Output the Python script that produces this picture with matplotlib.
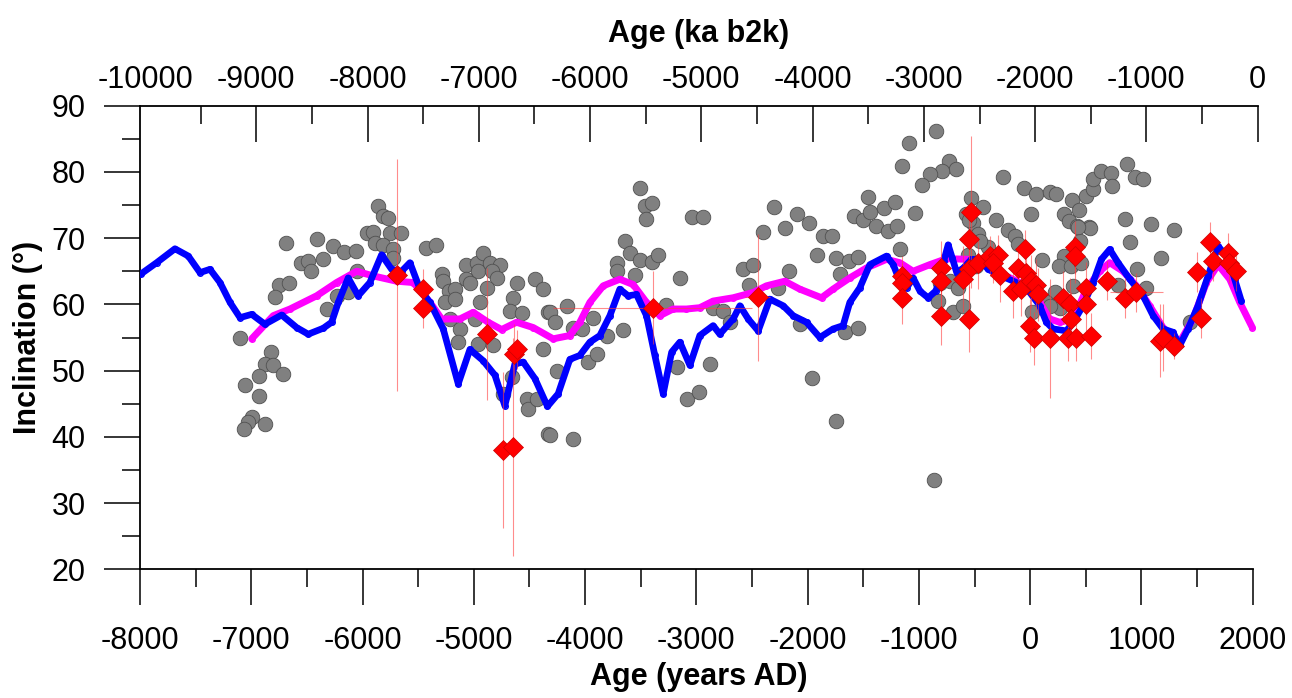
import matplotlib.pyplot as plt
from matplotlib.ticker import MultipleLocator

plt.rcParams['font.family'] = ['Liberation Sans', 'DejaVu Sans']
plt.rcParams['axes.unicode_minus'] = False

# grey points (years AD, inclination)
grey_x = [-7101, -6826, -6877, -6808, -6712, -6934, -7057, -6934, -6991, -7027, -7063, -6874,
          -6688, -6407, -6263, -6167, -6062, -6556, -6488, -6464, -6359, -6751, -6661, -6784,
          -6322, -6233, -6129, -6053, -5859, -5814, -5769, -5958, -5904, -5754, -5658, -5889,
          -5814, -5724, -5724, -5433, -5343, -5289, -5275, -5221, -5170, -5260, -5170, -5071,
          -4975, -4916, -4960, -4855, -4766, -4840, -4795, -5071, -5035, -4885, -4946, -4990,
          -5215, -5125, -5140, -4960, -4826, -4660, -4741, -4526, -4511, -4436, -4616, -4646,
          -4676, -4571, -4451, -4376, -4376, -4331, -4331,
          -4316, -4271, -4166, -4107, -4032, -4256, -4316, -4112, -3972, -3897, -3927, -3807,
          -3658, -3643, -3598, -3508, -3403, -3343, -3717, -3717, -3553, -3502, -3457, -3403,
          -3448, -3148, -3040, -2939, -3274, -3178, -3083, -2975, -2879, -2849, -2759, -2699,
          -2579, -2489, -2525, -2399, -2304, -2205, -2265, -2166, -2094, -1986, -1866, -1785,
          -1915, -1747, -1627, -1546, -1705, -2070, -1666, -1546, -1959, -1747, -1456, -1582,
          -1501, -1441, -1381, -1315, -1216, -1276, -1201,
          -842, -1091, -1148, -729, -665, -788, -902, -971, -1037, -1172, -243, -54, 57, 176,
          236, -536, -423, -573, -513, -303, -198, -138, -108, 6, -468, -558, -378, -483, 106,
          307, 262, 367, 376, 442, 307, 352, 421, 525, 502, 568, 568, 637, 726, 735, 867, 943,
          1011, 849, 1087, 1292, 895, 446, 1179, 964, 1038, 790, 460, 386, 221, 146, 266, 176,
          18, 1434, -866, -812, -722, -647, -827, -692, -602, -552, -453, 536, 431]
grey_y = [55.0, 52.8, 51.0, 50.9, 49.5, 49.2, 47.8, 46.2, 43.0, 42.2, 41.2, 42.0,
          69.2, 69.8, 68.8, 67.9, 68.0, 66.2, 66.5, 65.1, 66.8, 63.0, 63.3, 61.1,
          59.3, 61.2, 61.8, 65.0, 74.8, 73.3, 73.1, 70.8, 70.9, 70.8, 70.8, 69.2,
          68.9, 68.3, 67.0, 68.5, 68.9, 64.6, 63.5, 62.0, 62.3, 60.4, 60.8, 65.9,
          66.3, 67.8, 65.0, 66.3, 66.0, 65.0, 64.0, 63.8, 63.3, 62.4, 60.3, 57.8,
          57.8, 56.3, 54.3, 54.0, 53.8, 49.0, 46.5, 45.7, 44.2, 45.7, 63.3, 61.0,
          59.0, 58.7, 63.9, 62.3, 53.3, 58.8, 40.5,
          58.9, 57.4, 59.7, 56.5, 56.3, 49.9, 40.3, 39.7, 51.3, 52.5, 58.0, 55.3,
          56.2, 69.5, 67.7, 66.7, 66.4, 67.5, 66.3, 65.0, 64.5, 77.5, 74.8, 75.3,
          72.9, 64.0, 73.2, 73.2, 59.9, 50.5, 45.7, 46.8, 51.0, 59.5, 59.0, 57.3,
          65.3, 65.9, 62.9, 71.0, 74.7, 71.5, 62.4, 65.0, 73.7, 72.3, 70.3, 70.3,
          67.5, 67.0, 66.5, 67.1, 64.6, 57.0, 55.8, 56.5, 48.9, 42.4, 76.2, 73.4,
          72.7, 73.9, 71.9, 74.6, 75.4, 71.1, 71.8,
          86.2, 84.4, 80.9, 81.6, 80.4, 80.2, 79.7, 78.1, 73.8, 68.3, 79.3, 77.5, 76.7, 76.9,
          76.7, 76.1, 74.7, 73.6, 72.3, 72.7, 71.3, 70.3, 69.1, 73.7, 70.6, 67.5, 68.6, 65.8, 66.7,
          67.3, 65.8, 65.8, 75.8, 74.2, 73.6, 72.6, 71.9, 71.7, 76.3, 77.4, 78.9, 80.2, 79.8, 77.8, 81.2, 79.2,
          79.0, 72.9, 72.1, 71.3, 69.4, 69.6, 67.0, 65.3, 62.5, 63.0, 66.3, 62.8, 61.8, 60.3, 59.5, 59.8,
          58.9, 57.3, 33.5, 63.3, 63.5, 62.5, 60.5, 58.8, 59.8, 72.8, 69.5, 71.6, 71.7]

# red diamonds with uncertainties
red_x = [-5694, -5460, -5460, -4885, -4640, -4610, -4736, -4651, -3394, -2450,
         -1150, -1150, -1150, -797, -797, -797, -549, -528, -549, -608, -549,
         -468, -363, -288, -333, -273, -48, -108, -33, -153, -78, 12, 57, 72,
         -3, 33, 176, 296, 356, 371, 341, 410, 401, 401, 500, 500, 551,
         694, 850, 955, 1164, 1194, 1292, 1500, 1539, 1614, 1644, 1778, 1787, 1853]
red_y = [64.4, 62.3, 59.5, 55.5, 52.5, 53.2, 38.0, 38.5, 59.5, 61.1,
         64.3, 63.3, 61.0, 65.5, 63.6, 58.3, 69.9, 74.0, 65.4, 63.8, 57.8,
         66.3, 67.3, 67.5, 66.3, 64.4, 68.3, 65.5, 64.8, 62.0, 62.3, 63.5, 62.9, 61.5,
         56.8, 54.9, 54.9, 61.0, 60.0, 57.8, 54.9, 55.0, 68.6, 67.3, 62.4, 60.0, 55.2,
         63.6, 61.0, 61.8, 54.5, 55.0, 53.7, 64.9, 58.0, 69.4, 66.5, 67.8, 66.3, 65.0]
red_yerr = [17.5, 3.0, 3.0, 10.0, 4.5, 3.0, 11.8, 16.5, 5.5, 9.6,
            3.0, 3.0, 4.0, 4.0, 4.0, 4.5, 4.0, 11.5, 5.0, 5.0, 5.0,
            4.0, 3.0, 3.0, 3.0, 4.0, 3.0, 3.0, 3.0, 4.0, 4.0, 4.0, 4.0, 4.0,
            4.0, 4.0, 9.0, 4.0, 4.0, 4.0, 3.5, 3.5, 4.0, 4.0, 4.0, 4.0, 3.5,
            3.0, 3.0, 3.0, 5.5, 5.0, 2.0, 3.0, 3.0, 3.0, 3.0, 3.0, 3.0, 3.0]
red_xerr = [0, 0, 0, 0, 0, 0, 0, 0, 890, 110,
            0, 50, 50, 0, 0, 0, 0, 0, 0, 0, 0,
            0, 60, 0, 0, 0, 45, 0, 0, 0, 0, 0, 0, 0,
            0, 0, 0, 0, 0, 0, 0, 0, 0, 0, 0, 0, 0,
            0, 0, 240, 0, 0, 0, 0, 0, 0, 0, 0, 0, 0]

# blue model curve
blue_x = [-7991, -7850, -7686, -7566, -7461, -7371, -7281, -7191, -7101, -6996, -6877, -6727,
          -6592, -6488, -6353, -6278, -6218, -6129, -6039, -5934, -5829, -5739, -5649, -5574,
          -5484, -5394, -5275, -5140, -5035, -4916, -4810, -4721, -4631, -4556, -4451, -4338,
          -4242, -4137, -4047, -3957, -3867, -3777, -3688, -3613, -3538, -3448, -3373, -3298,
          -3222, -3148, -3058, -2969, -2849, -2789, -2669, -2609, -2534, -2444, -2340, -2220,
          -2130, -2010, -1890, -1771, -1681, -1621, -1531, -1441, -1291, -1230, -1172, -1110,
          -1052, -990, -917, -850, -812, -777, -737, -700, -660, -600, -528, -453, -378, -273,
          -123, -3, 86, 146, 206, 326, 386, 476, 565, 640, 715, 790, 895, 1015, 1105, 1194,
          1284, 1344, 1419, 1509, 1599, 1689, 1778, 1838, 1898]
blue_y = [64.6, 66.3, 68.4, 67.3, 64.8, 65.3, 63.3, 60.3, 58.0, 58.5, 57.0, 58.4,
          56.5, 55.5, 56.4, 57.3, 60.3, 64.0, 61.3, 63.3, 67.5, 65.3, 65.0, 66.3,
          62.3, 60.3, 56.3, 48.0, 53.2, 51.5, 49.3, 44.7, 51.0, 51.3, 48.8, 44.6,
          46.5, 51.7, 52.3, 54.3, 55.3, 58.3, 62.3, 61.3, 61.5, 58.3, 52.3, 46.5,
          52.8, 54.3, 50.8, 55.3, 56.8, 55.5, 57.8, 59.8, 57.8, 56.0, 60.8, 59.8,
          58.3, 57.3, 55.0, 56.3, 56.8, 60.3, 62.5, 66.0, 67.3, 66.0, 63.5, 62.5,
          64.0, 62.0, 61.0, 62.0, 63.5, 66.5, 69.0, 67.0, 64.8, 65.5, 66.8, 66.8, 65.3, 64.4,
          63.3, 61.8, 59.8, 57.3, 56.3, 56.0, 57.3, 59.8, 63.3, 66.8, 68.3, 66.3, 63.8, 61.3, 58.3, 56.3,
          55.8, 53.8, 56.3, 59.8, 64.3, 68.8, 67.0, 63.8, 60.5]

# magenta model curve
mag_x = [-6996, -6802, -6652, -6412, -6233, -6053, -5904, -5694, -5544, -5394, -5289, -5125,
         -5005, -4871, -4750, -4616, -4466, -4287, -4137, -4047, -3957, -3837, -3688, -3568,
         -3448, -3328, -3209, -3089, -2969, -2849, -2669, -2489, -2370, -2205, -2070, -1875,
         -1771, -1621, -1471, -1291, -1172, -1052, -902, -752, -543, -423, -243, -33, 86, 176,
         266, 386, 506, 625, 715, 835, 955, 1074, 1194, 1344, 1464, 1584, 1689, 1794, 1884, 1997]
mag_y = [54.8, 58.3, 59.3, 61.3, 63.3, 65.0, 64.3, 63.5, 63.3, 60.3, 57.8, 57.8,
         58.8, 57.3, 56.2, 57.3, 56.5, 54.8, 55.3, 57.3, 60.3, 62.8, 63.8, 63.0,
         60.3, 58.3, 59.3, 59.3, 59.5, 60.5, 61.0, 61.8, 62.8, 63.5, 62.3, 61.0,
         62.3, 64.0, 65.5, 66.8, 66.3, 65.0, 66.0, 66.9, 66.8, 66.3, 64.5, 62.8, 60.3, 57.8,
         57.3, 57.8, 62.3, 65.0, 66.3, 65.0, 62.8, 59.8, 56.5, 54.3, 57.8, 63.3, 66.0, 63.8, 60.3, 56.5]

# offset between the two age scales
offset = 2045

fig = plt.figure(figsize=(12.92, 6.98), dpi=100)
ax = fig.add_axes([140 / 1292, 128.7 / 698, 1117.7 / 1292, 463.6 / 698])

ax.scatter(grey_x, grey_y, s=110, color='#808080', edgecolors='#505050', linewidths=0.6, zorder=2)
ax.plot(mag_x, mag_y, color='#ff00ff', lw=5, marker='o', ms=4, mfc='none', mec='#ff00ff',
        solid_capstyle='round', solid_joinstyle='round', zorder=3)
ax.plot(blue_x, blue_y, color='#0000ff', lw=4.8, marker='o', ms=4, mfc='none', mec='#0000ff',
        solid_capstyle='round', solid_joinstyle='round', zorder=4)
ax.errorbar(red_x, red_y, yerr=red_yerr, xerr=red_xerr, fmt='none', ecolor='#ff4040',
            elinewidth=0.8, alpha=0.6, capsize=0, zorder=5)
ax.plot(red_x, red_y, 'D', color='#ff0000', ms=10, mec='#cc0000', mew=0.5, ls='none', zorder=6)

ax.set_xlim(-8000, offset)
ax.set_ylim(20, 90)
ax.yaxis.set_major_locator(MultipleLocator(10))
ax.yaxis.set_minor_locator(MultipleLocator(5))
ax.set_xticks(range(-8000, 2001, 1000))
ax.set_xticks(range(-7500, 2000, 1000), minor=True)

ax.spines['right'].set_visible(False)
ax.spines['top'].set_visible(False)
ax.spines['bottom'].set_bounds(-8000, 2000)
for s in ['left', 'bottom']:
    ax.spines[s].set_linewidth(1.3)

ax.tick_params(axis='both', which='major', direction='out', length=26, width=1.1,
               labelsize=22, pad=15)
ax.tick_params(axis='both', which='minor', direction='out', length=13, width=1.1)
ax.tick_params(axis='y', which='major', pad=13)

# top axis in ka b2k
sec = ax.secondary_xaxis('top', functions=(lambda x: x - offset, lambda x: x + offset))
sec.set_xticks(range(-10000, 1, 1000))
sec.set_xticks(range(-9500, 0, 1000), minor=True)
sec.spines['top'].set_linewidth(1.3)
sec.tick_params(which='major', direction='in', length=26, width=1.1, labelsize=22, pad=8)
sec.tick_params(which='minor', direction='in', length=13, width=1.1)
first = sec.xaxis.get_major_ticks()[0]
first.tick1line.set_visible(False)
first.tick2line.set_visible(False)
sec.set_xlabel('Age (ka b2k)', fontsize=22, fontweight='bold', labelpad=16)

ax.set_xlabel('Age (years AD)', fontsize=22, fontweight='bold', labelpad=4)
ax.set_ylabel('Inclination (°)', fontsize=22, fontweight='bold', labelpad=6)

fig.savefig('out.png', dpi=100)
